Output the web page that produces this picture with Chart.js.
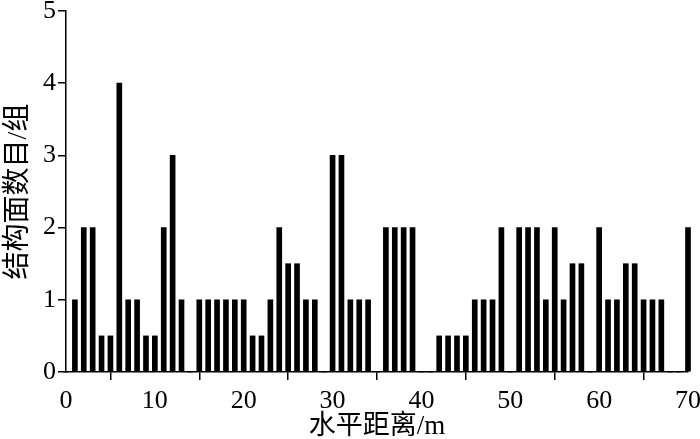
<!DOCTYPE html>
<html>
<head>
<meta charset="utf-8">
<script src="https://cdn.jsdelivr.net/npm/chart.js@4"></script>
<style>
  html, body { margin: 0; padding: 0; background: #fff; }
  #wrap { width: 700px; height: 439px; }
</style>
</head>
<body>
<div id="wrap"><canvas id="barChart"></canvas></div>
<script>
// horizontal distance positions (m) and joint counts
const distances = [];
for (let i = 0; i <= 70; i++) distances.push(i);
const counts = [
  0, 1, 2, 2, 0.5, 0.5, 4, 1, 1, 0.5,
  0.5, 2, 3, 1, 0, 1, 1, 1, 1, 1,
  1, 0.5, 0.5, 1, 2, 1.5, 1.5, 1, 1, 0,
  3, 3, 1, 1, 1, 0, 2, 2, 2, 2,
  0, 0, 0.5, 0.5, 0.5, 0.5, 1, 1, 1, 2,
  0, 2, 2, 2, 1, 2, 1, 1.5, 1.5, 0,
  2, 1, 1, 1.5, 1.5, 1, 1, 1, 0, 0,
  2
];
const xTitle = '水平距离/m';
const yTitle = '结构面数目/组';

const font = "'Liberation Serif', 'Noto Sans CJK SC', serif";
const ctx = document.getElementById('barChart').getContext('2d');

new Chart(ctx, {
  type: 'bar',
  data: {
    datasets: [{
      data: distances.map((d, i) => ({ x: d, y: counts[i] })),
      backgroundColor: '#000',
      barThickness: 5,
      clip: false
    }]
  },
  options: {
    responsive: true,
    maintainAspectRatio: false,
    animation: false,
    layout: { padding: { top: 11, right: 12, left: 0, bottom: 0 } },
    plugins: { legend: { display: false }, tooltip: { enabled: false } },
    scales: {
      x: {
        type: 'linear',
        min: 0,
        max: 70,
        offset: false,
        border: { color: '#000', width: 1.5 },
        grid: { drawOnChartArea: false, drawTicks: true, tickLength: 8, color: '#000', lineWidth: 1.5 },
        ticks: { stepSize: 10, color: '#000', font: { family: font, size: 26 }, padding: 6, maxRotation: 0 },
        title: { display: true, text: xTitle, color: '#000', font: { family: font, size: 27 }, padding: { top: 0, bottom: -4 } },
        afterFit: s => { s.height = 67; s.paddingLeft = 0; s.paddingRight = 0; }
      },
      y: {
        min: 0,
        max: 5,
        border: { color: '#000', width: 1.5 },
        grid: { drawOnChartArea: false, drawTicks: true, tickLength: 8, color: '#000', lineWidth: 1.5 },
        ticks: { stepSize: 1, color: '#000', font: { family: font, size: 26 }, padding: 2 },
        title: { display: true, text: yTitle, color: '#000', font: { family: font, size: 28 }, padding: { top: 2, bottom: 2 } },
        afterFit: s => { s.width = 66; s.paddingTop = 0; s.paddingBottom = 0; }
      }
    }
  }
});
</script>
</body>
</html>
